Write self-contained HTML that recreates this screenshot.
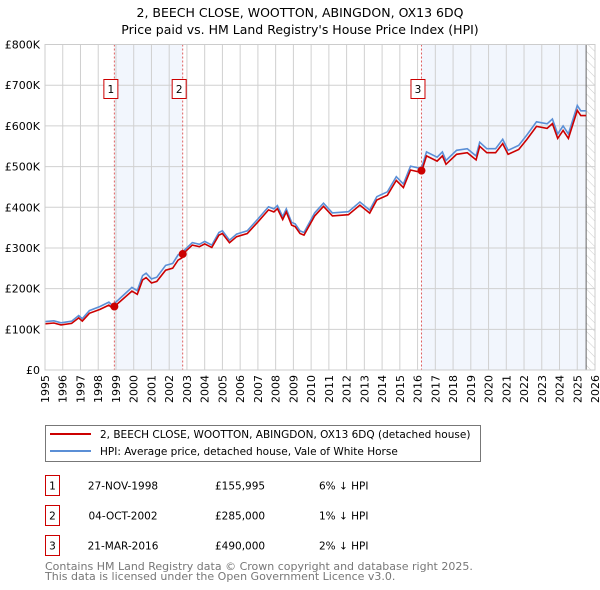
<!DOCTYPE html>
<html><head><meta charset="utf-8">
<style>
body{margin:0;background:#fff;font-family:"Liberation Sans","DejaVu Sans",sans-serif;}
svg{display:block}
</style></head>
<body>
<svg id="chart" width="600" height="590" viewBox="0 0 600 590" xmlns="http://www.w3.org/2000/svg" font-family="DejaVu Sans, Liberation Sans, sans-serif">
<defs>
<pattern id="hatch" width="6" height="6" patternUnits="userSpaceOnUse" patternTransform="rotate(-45)">
<line x1="0" y1="0" x2="0" y2="6" stroke="#ccc" stroke-width="1"/>
</pattern>
</defs>
<text x="300" y="17" text-anchor="middle" font-size="12.5" fill="#000">2, BEECH CLOSE, WOOTTON, ABINGDON, OX13 6DQ</text>
<text x="300" y="34" text-anchor="middle" font-size="12.5" fill="#000">Price paid vs. HM Land Registry's House Price Index (HPI)</text>
<g id="plot"></g>
<g id="legend">
<rect x="45.5" y="425.5" width="435" height="36" fill="#fff" stroke="#777"/>
<line x1="50" y1="434" x2="91" y2="434" stroke="#cc0000" stroke-width="2"/>
<text x="100" y="438" font-size="10.5">2, BEECH CLOSE, WOOTTON, ABINGDON, OX13 6DQ (detached house)</text>
<line x1="50" y1="451" x2="91" y2="451" stroke="#5b8fd6" stroke-width="2"/>
<text x="100" y="455" font-size="10.5">HPI: Average price, detached house, Vale of White Horse</text>
</g>
<g id="table" font-size="10.5"></g>
<text x="45" y="570" font-size="11" fill="#777">Contains HM Land Registry data © Crown copyright and database right 2025.</text>
<text x="45" y="580" font-size="11" fill="#777">This data is licensed under the Open Government Licence v3.0.</text>
</svg>
<script>
const hpiYears=[1995,1995.5,1995.9,1996.5,1996.9,1997.1,1997.5,1998.1,1998.6,1998.8,1999.4,1999.9,2000.2,2000.5,2000.7,2001.0,2001.3,2001.8,2002.2,2002.5,2002.7,2003.3,2003.7,2004.0,2004.4,2004.8,2005.0,2005.4,2005.8,2006.4,2007.0,2007.6,2007.9,2008.1,2008.4,2008.6,2008.9,2009.1,2009.37,2009.6,2010.2,2010.7,2011.2,2012.1,2012.75,2013.3,2013.7,2014.3,2014.8,2015.2,2015.6,2016.1,2016.25,2016.5,2017.1,2017.4,2017.6,2018.2,2018.8,2019.3,2019.5,2019.9,2020.4,2020.8,2021.1,2021.7,2022.15,2022.7,2023.3,2023.6,2023.9,2024.2,2024.5,2025.0,2025.2,2025.5];
const hpiValues=[119,121,116,120,134,126,146,156,167,159,183,203,195,232,238,224,228,257,262,283,288,313,309,316,307,338,342,319,334,342,371,401,396,404,377,396,363,359,342,338,386,410,386,389,413,393,426,438,475,457,501,496,500,536,523,536,515,540,544,526,560,544,544,567,540,552,577,610,605,617,580,600,580,650,637,637];
const saleYears=[1998.91,2002.76,2016.22];
const salePrices=[155.995,285,490];
const saleLabels=["1","2","3"];
const saleDates=["27-NOV-1998","04-OCT-2002","21-MAR-2016"];
const salePriceText=["£155,995","£285,000","£490,000"];
const saleDiffs=["6% ↓ HPI","1% ↓ HPI","2% ↓ HPI"];
const yTicks=[0,100,200,300,400,500,600,700,800];
const yTickLabels=["£0","£100K","£200K","£300K","£400K","£500K","£600K","£700K","£800K"];
const xTicks=[1995,1996,1997,1998,1999,2000,2001,2002,2003,2004,2005,2006,2007,2008,2009,2010,2011,2012,2013,2014,2015,2016,2017,2018,2019,2020,2021,2022,2023,2024,2025,2026];

const L=45,R=595,T=44.5,B=370,X0=1995,X1=2026,Y1=800,dataEnd=2025.5;
const xs=y=>L+(y-X0)/(X1-X0)*(R-L);
const ys=v=>B-v/Y1*(B-T);
const NS="http://www.w3.org/2000/svg";
const plot=document.getElementById('plot');
function mk(tag,attrs,parent){const e=document.createElementNS(NS,tag);for(const k in attrs)e.setAttribute(k,attrs[k]);(parent||plot).appendChild(e);return e;}
function hpiAt(y){for(let i=1;i<hpiYears.length;i++){if(y<=hpiYears[i]){const t=(y-hpiYears[i-1])/(hpiYears[i]-hpiYears[i-1]);return hpiValues[i-1]+t*(hpiValues[i]-hpiValues[i-1]);}}return hpiValues[hpiValues.length-1];}

let e;
e=mk('rect',{x:xs(saleYears[0]),y:T,width:xs(saleYears[1])-xs(saleYears[0]),height:B-T,fill:'#f2f6fd'});


e=mk('rect',{x:xs(saleYears[2]),y:T,width:xs(dataEnd)-xs(saleYears[2]),height:B-T,fill:'#f2f6fd'});


e=mk('rect',{x:xs(dataEnd),y:T,width:R-xs(dataEnd),height:B-T,fill:'url(#hatch)'});


xTicks.forEach(t=>{
 e=mk('line',{x1:xs(t),x2:xs(t),y1:T,y2:B,stroke:'#d0d0d0','stroke-width':1});
 
 
 e=mk('text',{x:0,y:0,transform:`translate(${xs(t)+4},${B+5}) rotate(-90)`,'text-anchor':'end','font-size':11});
 e.textContent=t;
 
 
});
yTicks.forEach((t,i)=>{
 e=mk('line',{x1:L,x2:R,y1:ys(t),y2:ys(t),stroke:'#d0d0d0','stroke-width':1});
 
 
 e=mk('text',{x:L-5,y:ys(t)+4,'text-anchor':'end','font-size':11});
 e.textContent=yTickLabels[i];
 
 
});
e=mk('line',{x1:xs(dataEnd),x2:xs(dataEnd),y1:T,y2:B,stroke:'#666','stroke-width':1});


saleYears.forEach((s,i)=>{
 e=mk('line',{x1:xs(s),x2:xs(s),y1:T,y2:B,stroke:'#e06060','stroke-width':1,'stroke-dasharray':'2,2'});
 
 
});
let d=hpiYears.map((y,i)=>(i?'L':'M')+xs(y).toFixed(1)+','+ys(hpiValues[i]).toFixed(1)).join('');
e=mk('path',{d:d,fill:'none',stroke:'#5b8fd6','stroke-width':1.6});


const ratios=saleYears.map((s,i)=>salePrices[i]/hpiAt(s));
function ratioAt(y){let r=ratios[0];saleYears.forEach((s,i)=>{if(y>=s)r=ratios[i];});return r;}
let pts=[];
const allYears=hpiYears.concat(saleYears).sort((a,b)=>a-b);
allYears.forEach(y=>{pts.push([y,hpiAt(y)*ratioAt(y)]);});
d=pts.map((p,i)=>(i?'L':'M')+xs(p[0]).toFixed(1)+','+ys(p[1]).toFixed(1)).join('');
e=mk('path',{d:d,fill:'none',stroke:'#cc0000','stroke-width':1.6});


saleYears.forEach((s,i)=>{
 e=mk('circle',{cx:xs(s),cy:ys(salePrices[i]),r:4,fill:'#cc0000'});
 
 
 e=mk('rect',{x:xs(s)-10.5,y:79.5,width:14,height:19,fill:'#fff',stroke:'#cc0000'});
 
 
 e=mk('text',{x:xs(s)-3.5,y:93,'text-anchor':'middle','font-size':10.5});
 e.textContent=saleLabels[i];
 
 
});
e=mk('rect',{x:L,y:T,width:R-L,height:B-T,fill:'none',stroke:'#ccc'});



const tbl=document.getElementById('table');
saleYears.forEach((s,i)=>{
 const y0=475.5+i*30;
 e=mk('rect',{x:45.5,y:y0,width:14,height:20,fill:'#fff',stroke:'#cc0000'},tbl);
 
 
 e=mk('text',{x:52.5,y:y0+14,'text-anchor':'middle'},tbl);e.textContent=saleLabels[i];
 
 
 e=mk('text',{x:123,y:y0+14,'text-anchor':'middle'},tbl);e.textContent=saleDates[i];
 
 
 e=mk('text',{x:215,y:y0+14},tbl);e.textContent=salePriceText[i];
 
 
 e=mk('text',{x:319,y:y0+14},tbl);e.textContent=saleDiffs[i];
 
 
});
</script>
</body></html>
